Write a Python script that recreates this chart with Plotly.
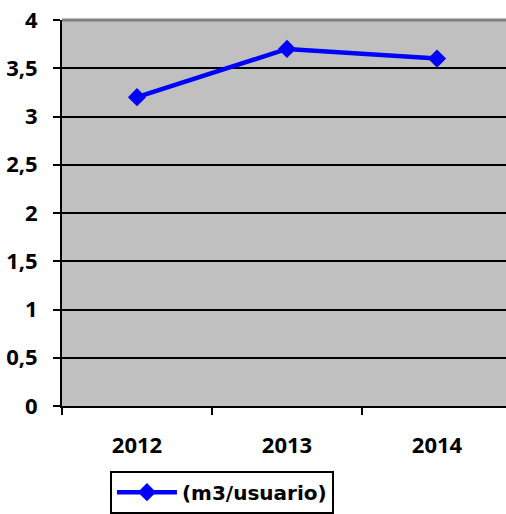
import plotly.graph_objects as go

years = ["2012", "2013", "2014"]
values = [3.2, 3.7, 3.6]
series_name = "(m3/usuario)"

fig = go.Figure()
fig.add_trace(go.Scatter(
    x=years, y=values, name=series_name, mode="lines+markers",
    line=dict(color="#0000FF", width=4.5),
    marker=dict(symbol="diamond", size=14, color="#0000FF"),
    showlegend=True,
))

font_family = "'Open Sans', Lato, Arial, sans-serif"
tick_font = dict(family=font_family, size=22, color="black", weight="bold")

fig.update_layout(
    width=506, height=514,
    margin=dict(l=62, r=0, t=20, b=106),
    paper_bgcolor="white",
    plot_bgcolor="#C0C0C0",
    separators=", ",
    font=dict(family=font_family, size=21, color="black"),
    showlegend=True,
    legend=dict(
        x=0.108, y=-0.1675, xanchor="left", yanchor="top",
        bgcolor="white", bordercolor="black", borderwidth=2,
        font=dict(family="'DejaVu Sans', 'Open Sans', sans-serif", size=20,
                  color="black", weight="bold"),
        itemwidth=60,
    ),
    xaxis=dict(
        type="category", range=[-0.5, 2.46],
        tickson="boundaries", ticks="outside", ticklen=7, tickwidth=2, tickcolor="black",
        showline=True, linecolor="black", linewidth=2,
        showgrid=False,
        tickfont=tick_font,
        ticklabelstandoff=19,
        ticklabeloverflow="allow",
    ),
    yaxis=dict(
        range=[0, 4], dtick=0.5, tick0=0,
        ticks="outside", ticklen=7, tickwidth=2, tickcolor="black",
        showline=True, linecolor="black", linewidth=2,
        showgrid=True, gridcolor="black", gridwidth=2,
        zeroline=False,
        tickfont=tick_font,
        ticklabelstandoff=11,
        ticklabeloverflow="allow",
    ),
    shapes=[dict(type="line", xref="paper", yref="paper", x0=0, x1=1, y0=1, y1=1,
                 line=dict(color="#808080", width=3), layer="above")],
)

page_css = ("document.documentElement.style.margin='0';"
            "document.documentElement.style.overflow='hidden';"
            "document.body.style.margin='0';"
            "document.body.style.overflow='hidden';")

fig.write_html("out.html", post_script=page_css, config={"displayModeBar": False})
